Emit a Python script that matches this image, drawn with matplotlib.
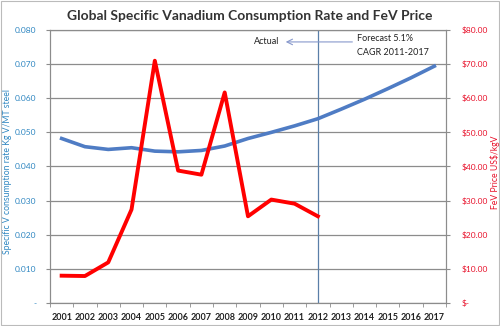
import matplotlib
matplotlib.use("Agg")
import matplotlib.pyplot as plt
from matplotlib.ticker import FixedLocator

plt.rcParams['font.family'] = ['Lato', 'DejaVu Sans']

years = [str(y) for y in range(2001, 2018)]
consumption = [0.0482, 0.0458, 0.0450, 0.0455, 0.0445, 0.0443, 0.0447, 0.0460,
               0.0482, 0.0500, 0.0519, 0.0540, 0.0568, 0.0597, 0.0628, 0.0660, 0.0694]
price_years = years[:12]
price = [8.0, 7.9, 11.9, 27.4, 71.0, 38.8, 37.6, 61.7, 25.4, 30.3, 29.1, 25.4]

left_ticks = [0, 0.01, 0.02, 0.03, 0.04, 0.05, 0.06, 0.07, 0.08]
left_labels = ["-", "0.010", "0.020", "0.030", "0.040", "0.050", "0.060", "0.070", "0.080"]
right_ticks = [0, 10, 20, 30, 40, 50, 60, 70, 80]
right_labels = ["$-", "$10.00", "$20.00", "$30.00", "$40.00", "$50.00", "$60.00", "$70.00", "$80.00"]

blue_txt = "#2E86C1"
red_txt = "#E8102A"
line_blue = "#4F7CC4"
grid_c = "#8c8c8c"

fig = plt.figure(figsize=(5, 3.26), dpi=100)
fig.patch.set_facecolor("white")
ax = fig.add_axes([0.1, 0.0706, 0.792, 0.8374])
ax2 = ax.twinx()

x = list(range(len(years)))
ax.plot(x, consumption, color=line_blue, lw=2.6, zorder=3)
ax2.plot(x[:len(price)], price, color="#FF0000", lw=2.8, zorder=4)

ax.set_xlim(-0.5, len(years) - 0.5)
ax.set_ylim(0, 0.08)
ax2.set_ylim(0, 80)

ax.set_yticks(left_ticks)
ax.set_yticklabels(left_labels, color=blue_txt, fontsize=6)
ax2.set_yticks(right_ticks)
ax2.set_yticklabels(right_labels, color=red_txt, fontsize=6)
ax.set_xticks(x)
ax.set_xticklabels(years, fontsize=6.5, fontweight="bold", color="#222222")
ax.xaxis.set_minor_locator(FixedLocator([i - 0.5 for i in range(len(years) + 1)]))
ax.tick_params(axis="x", which="major", length=0, pad=7)
ax.tick_params(axis="x", which="minor", length=3, color=grid_c)
ax.tick_params(axis="y", length=3, color=grid_c, pad=7)
ax2.tick_params(axis="y", length=3, color=grid_c, pad=8)

ax.grid(axis="y", color=grid_c, lw=0.9)
ax.set_axisbelow(True)
for s in ["left", "right", "top", "bottom"]:
    ax.spines[s].set_color(grid_c)
    ax2.spines[s].set_color(grid_c)

ax.set_ylabel("Specific V consumption rate Kg V/MT steel", color=blue_txt, fontsize=6.2)
ax.yaxis.set_label_coords(-0.097, 0.48)
ax2.set_ylabel("FeV Price US$/kgV", color=red_txt, fontsize=6.2)
ax2.yaxis.set_label_coords(1.112, 0.48)

ax.axvline(11, color="#5A7FA8", lw=0.9, zorder=2)

ax.annotate("", xy=(9.5, 0.0765), xytext=(12.6, 0.0765),
            arrowprops=dict(arrowstyle="->", color="#8899cc", lw=0.8))
ax.text(9.35, 0.0765, "Actual", fontsize=6.5, ha="right", va="center", color="#222222")
ax.text(12.7, 0.0775, "Forecast 5.1%", fontsize=6.5, ha="left", va="center", color="#222222")
ax.text(12.7, 0.0735, "CAGR 2011-2017", fontsize=6.5, ha="left", va="center", color="#222222")

fig.suptitle("Global Specific Vanadium Consumption Rate and FeV Price",
             fontsize=10, fontweight="bold", color="#333333", y=0.97)

fig.add_artist(plt.Rectangle((0.002, 0.003), 0.995, 0.993, fill=False,
                             edgecolor="#bbbbbb", lw=0.8, transform=fig.transFigure))

fig.savefig("out.png", dpi=100)
